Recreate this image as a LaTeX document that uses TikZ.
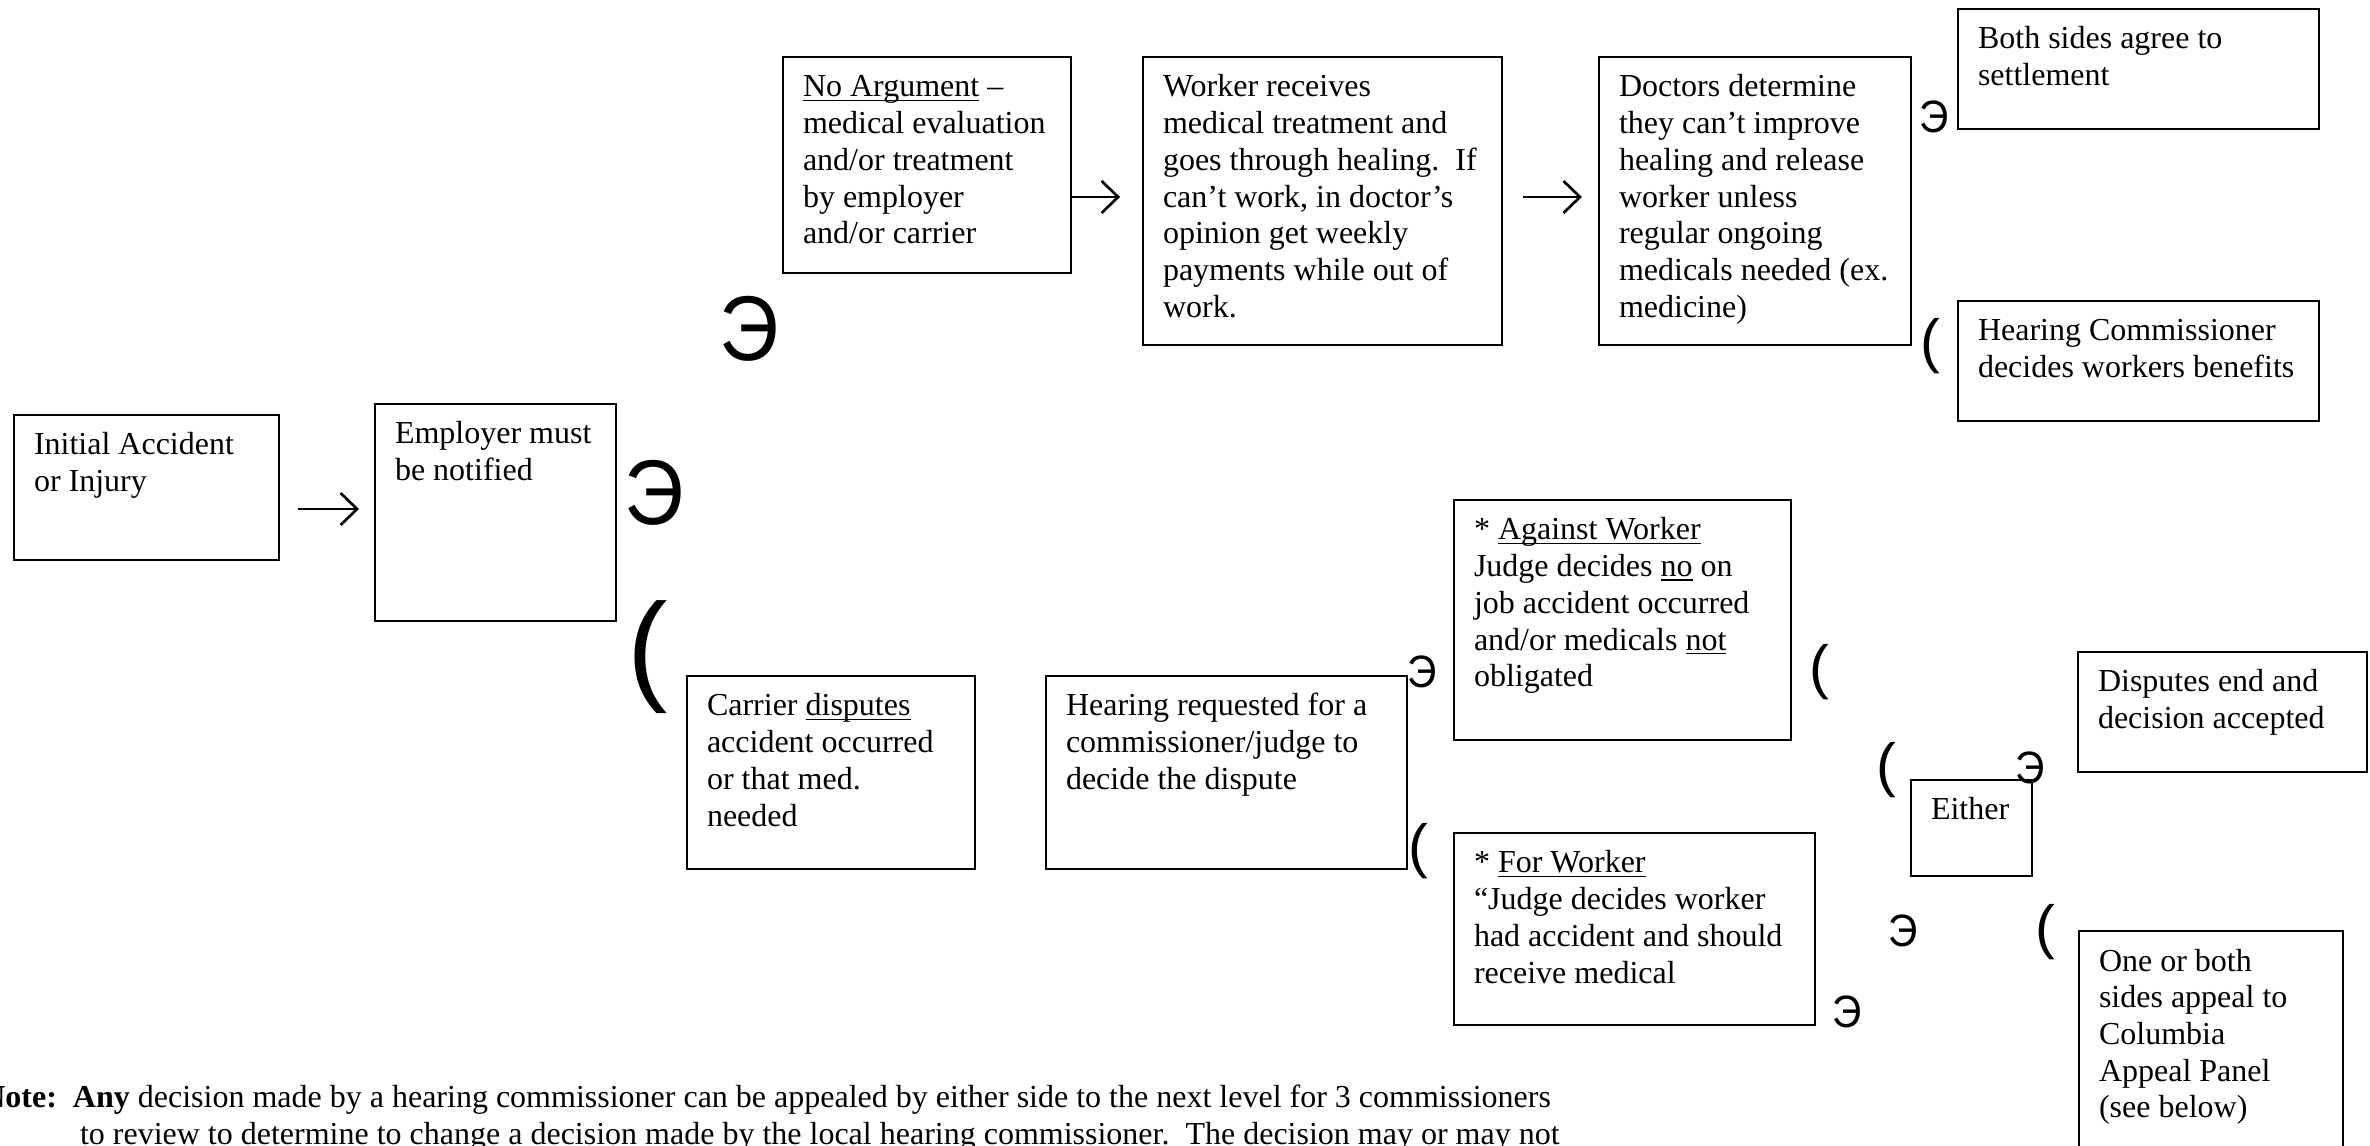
\documentclass[tikz,border=0pt]{standalone}
\usepackage{graphicx}
\usepackage{fontspec}
\setmainfont{Liberation Serif}
\newfontfamily\symfont{Liberation Sans}
\usetikzlibrary{arrows.meta}
\newcommand\myul[1]{\leavevmode\setbox0=\hbox{#1}\rlap{\rule[-1.5pt]{\wd0}{0.55pt}}\box0\relax}
% #1 name, #2 x1, #3 y1, #4 x2, #5 y2, #6 text
\newcommand\flowbox[6]{%
  \node[box, minimum width={(#4-#2)*0.375pt}, minimum height={(#5-#3)*0.375pt}] (#1) at (#2,#3) {};
  \node[txt] (#1-t) at ({#2+20},{#3+40}) {\begin{tabular}[t]{@{}l@{}}#6\end{tabular}};
}
\begin{document}
\begin{tikzpicture}[x=0.375pt,y=-0.375pt,
  box/.style={draw, line width=0.8pt, inner sep=0pt, outer sep=0pt, anchor=north west},
  txt/.style={anchor=base west, inner sep=0pt, outer sep=0pt, font=\fontsize{12pt}{13.76pt}\selectfont},
  arr/.style={line width=1pt, -{Straight Barb[length=6.2pt,width=12pt,line width=1pt]}},
  sym/.style={inner sep=0pt, outer sep=0pt, anchor=center},
  bigE/.style={sym, font=\symfont\fontsize{34.5pt}{40pt}\selectfont},
  smallE/.style={sym, font=\symfont\fontsize{17pt}{20pt}\selectfont},
  bigP/.style={sym, font=\symfont\fontsize{45.5pt}{50pt}\selectfont},
  smallP/.style={sym, font=\symfont\fontsize{22.3pt}{26pt}\selectfont}]
\path[use as bounding box] (0,0) rectangle (2370,1146);
\fill[white] (0,0) rectangle (2370,1146);
\clip (0,0) rectangle (2370,1146);

% boxes
\flowbox{init}{14}{415}{279}{560}{Initial Accident\\or Injury}
\flowbox{emp}{375}{404}{616}{621}{Employer must\\be notified}
\flowbox{noarg}{783}{57}{1071}{273}{\myul{No Argument} –\\medical evaluation\\and/or treatment\\by employer\\and/or carrier}
\flowbox{worker}{1143}{57}{1502}{345}{Worker receives\\medical treatment and\\goes through healing.\ \ If\\can’t work, in doctor’s\\opinion get weekly\\payments while out of\\work.}
\flowbox{doctors}{1599}{57}{1911}{345}{Doctors determine\\they can’t improve\\healing and release\\worker unless\\regular ongoing\\medicals needed (ex.\\medicine)}
\flowbox{both}{1958}{9}{2319}{129}{Both sides agree to\\settlement}
\flowbox{hc}{1958}{301}{2319}{421}{Hearing Commissioner\\decides workers benefits}
\flowbox{carrier}{687}{676}{975}{869}{Carrier \myul{disputes}\\accident occurred\\or that med.\\needed}
\flowbox{hearing}{1046}{676}{1407}{869}{Hearing requested for a\\commissioner/judge to\\decide the dispute}
\flowbox{against}{1454}{500}{1791}{740}{* \myul{Against Worker}\\Judge decides \myul{no} on\\job accident occurred\\and/or medicals \myul{not}\\obligated}
\flowbox{forw}{1454}{833}{1815}{1025}{* \myul{For Worker}\\“Judge decides worker\\had accident and should\\receive medical}
\flowbox{either}{1911}{780}{2032}{876}{Either}
\flowbox{disputes}{2078}{652}{2367}{772}{Disputes end and\\decision accepted}
\flowbox{one}{2079}{931}{2343}{1200}{One or both\\sides appeal to\\Columbia\\Appeal Panel\\(see below)}

% arrows
\coordinate (a1) at ([yshift=1.3pt]emp.west);
\coordinate (a2) at ([yshift=1.5pt]worker.west);
\coordinate (a3) at ([yshift=1.5pt]doctors.west);
\draw[arr, shorten <=7.1pt, shorten >=6pt] (init.east |- a1) -- (a1);
\draw[arr, shorten <=0.4pt, shorten >=8.6pt] (noarg.east |- a2) -- (a2);
\draw[arr, shorten <=7.9pt, shorten >=6.4pt] (worker.east |- a3) -- (a3);

% symbol glyphs
\node[bigE] (e1) at (749,329) {\scalebox{0.9}[1]{Э}};
\node[bigE] (e2) at (654,493) {\scalebox{0.9}[1]{Э}};
\node[bigP] (p1) at (648,657) {(};
\node[smallE] (e3) at (1934,116.5) {\scalebox{0.9}[1]{Э}};
\node[smallP] (p2) at (1930,346) {(};
\node[smallE] (e4) at (1422.5,672) {\scalebox{0.9}[1]{Э}};
\node[smallP] (p3) at (1418.5,851) {(};
\node[smallP] (p4) at (1819.5,672.5) {(};
\node[smallP] (p5) at (1886,770) {(};
\node[smallE] (e5) at (2030,767.5) {\scalebox{0.9}[1]{Э}};
\node[smallE] (e6) at (1903,931) {\scalebox{0.9}[1]{Э}};
\node[smallP] (p6) at (2045,932) {(};
\node[smallE] (e7) at (1847,1011.5) {\scalebox{0.9}[1]{Э}};

% note
\node[txt] (note1) at (73,1107) {\llap{\textbf{Note:}\hspace{6pt}}\textbf{Any} decision made by a hearing commissioner can be appealed by either side to the next level for 3 commissioners};
\node[txt] (note2) at (80,1144) {to review to determine to change a decision made by the local hearing commissioner.\ \ The decision may or may not};
\end{tikzpicture}
\end{document}
